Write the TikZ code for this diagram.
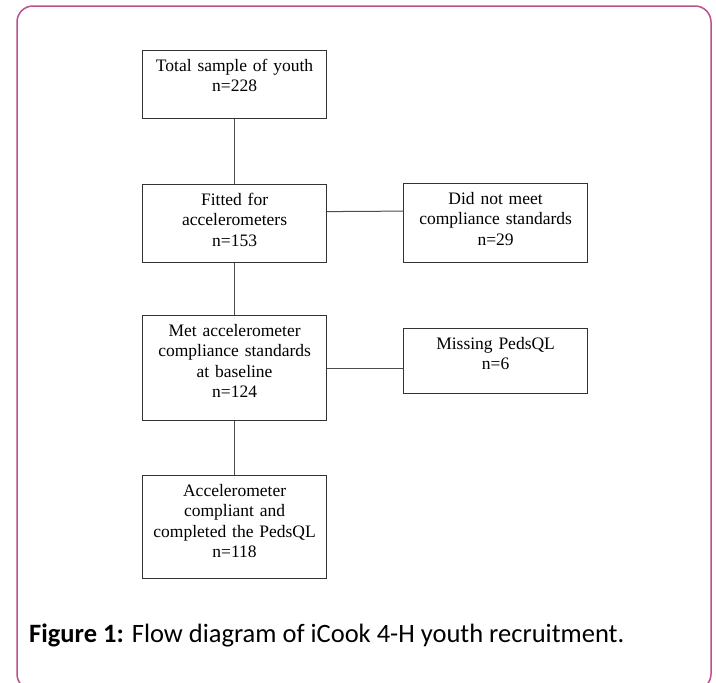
\documentclass[tikz,border=0pt]{standalone}
\usepackage{fontspec}
\setmainfont{Liberation Serif}
\newfontfamily\captionfont{Carlito}
\usetikzlibrary{positioning}
\definecolor{frameMagenta}{HTML}{BF4F8C}
\definecolor{boxGray}{gray}{0.2}
\definecolor{linkGray}{gray}{0.3}

\begin{document}
\begin{tikzpicture}[x=1pt, y=-1pt,
    flowbox/.style={draw=boxGray, line width=1.2pt, anchor=north west, inner sep=0pt,
        text width=184pt, align=center, text height=21pt,
        font=\fontsize{17.5}{20.2}\selectfont},
    link/.style={draw=linkGray, line width=1pt}]
    \clip (0,0) rectangle (716,683);
    % frame
    \draw[frameMagenta, line width=1.5pt, rounded corners=16pt] (17,6) rectangle (711,690);

    % main column
    \node[flowbox, text depth=47pt] (total) at (142,50) {Total sample of youth\\n=228};
    \node[flowbox, text depth=57pt] (fitted) at (142,184) {Fitted for\\accelerometers\\n=153};
    \node[flowbox, text depth=84pt] (met) at (142,315) {Met accelerometer\\compliance standards\\at baseline\\n=124};
    \node[flowbox, text depth=82pt] (final) at (142,475) {Accelerometer\\compliant and\\completed the PedsQL\\n=118};

    % excluded
    \node[flowbox, text depth=58pt] (noncompliant) at (403,183) {Did not meet\\compliance standards\\n=29};
    \node[flowbox, text depth=44pt] (missing) at (403,328) {Missing PedsQL\\n=6};

    % links
    \draw[link] (total.south) -- (fitted.north);
    \draw[link] (fitted.south) -- (met.north);
    \draw[link] (met.south) -- (final.north);
    \draw[link] ([yshift=12pt]fitted.east) -- ([yshift=12pt]noncompliant.west);
    \draw[link] (met.east) -- (met.east -| missing.west);

    % caption
    \node[anchor=base west, inner sep=0pt, font=\captionfont\fontsize{26.5}{30}\selectfont] (caption) at (29,642)
        {\textbf{Figure 1:} Flow diagram of iCook 4-H youth recruitment.};
\end{tikzpicture}
\end{document}
